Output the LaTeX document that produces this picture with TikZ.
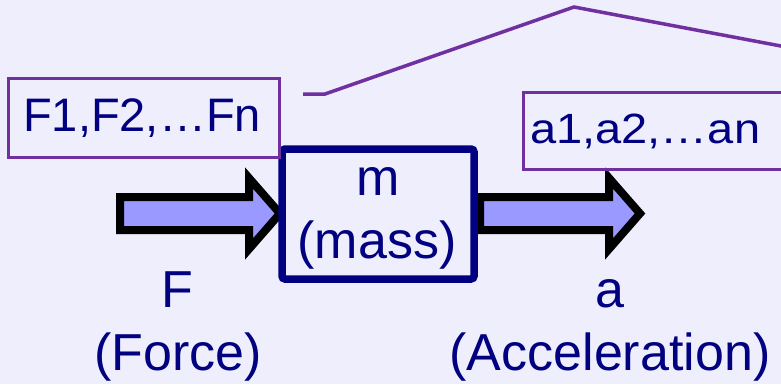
\documentclass[tikz,border=0pt]{standalone}
\usepackage{fontspec}
\setmainfont{Liberation Sans}
\definecolor{bgc}{HTML}{EEEEFD}
\definecolor{navy}{HTML}{000080}
\definecolor{purp}{HTML}{7030A0}
\definecolor{arrfill}{HTML}{9999FF}
\tikzset{
  lbl/.style={inner sep=0pt, text=navy, anchor=base, font=\fontsize{52}{62}\selectfont},
  boxlbl/.style={inner sep=0pt, text=navy, anchor=base west, font=\fontsize{47}{56}\selectfont},
  callbox/.style={draw=purp, line width=3.5pt, inner sep=0pt},
  massbox/.style={draw=navy, line width=7.5pt, rounded corners=3pt, inner sep=0pt},
  blockarrow/.style={draw=black, fill=arrfill, line width=8pt, miter limit=10},
  callline/.style={draw=purp, line width=3.5pt}
}
\begin{document}
\begin{tikzpicture}[x=1pt,y=-1pt]
\fill[bgc] (0,0) rectangle (781,384);
\clip (0,0) rectangle (781,384);
% block arrows
\draw[blockarrow] (120,197) -- (249,197) -- (249,178) -- (280,213.5) -- (249,249) -- (249,230) -- (120,230) -- cycle;
\draw[blockarrow] (480,197) -- (609,197) -- (609,178) -- (640,213.5) -- (609,249) -- (609,230) -- (480,230) -- cycle;
% mass box
\node[massbox, minimum width=192pt, minimum height=130pt] (mass) at (378,214) {};
\node[lbl] (mt) at (378,195) {m};
\node[lbl] (mt2) at (377,258) {(mass)};
% callout boxes
\node[callbox, minimum width=271pt, minimum height=79pt] (fbox) at (144,118) {};
\node[boxlbl] (ftext) at (23,131) {F1,F2,\ldots Fn};
\node[callbox, minimum width=267pt, minimum height=77pt] (abox) at (657,131) {};
\node[boxlbl] (atext) at (530,143) {\scalebox{1}[0.9]{a1,a2,\ldots an}};
% callout line
\coordinate (c0) at (303,94);
\coordinate (c1) at (325,94);
\coordinate (c2) at (574,7);
\coordinate (c3) at (800,49.6);
\draw[callline] (c0) -- (c1) -- (c2) -- (c3);
% labels
\node[lbl] (fl) at (177,307) {F};
\node[lbl] (fl2) at (178,370) {(Force)};
\node[lbl] (al) at (610,307) {a};
\node[lbl] (al2) at (610,370) {(Acceleration)};
\end{tikzpicture}
\end{document}
